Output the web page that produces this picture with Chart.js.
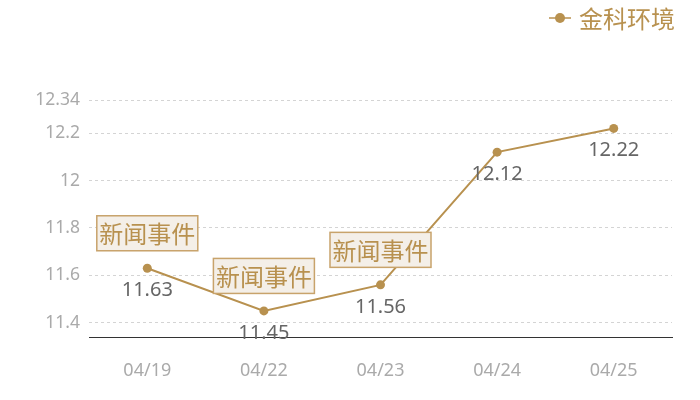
<!DOCTYPE html>
<html>
<head>
<meta charset="utf-8">
<script src="https://cdn.jsdelivr.net/npm/chart.js@4"></script>
<style>
  html, body { margin: 0; padding: 0; background: #fff; }
  #wrap { width: 700px; height: 400px; }
</style>
</head>
<body>
<div id="wrap"><canvas id="grafico" width="700" height="400"></canvas></div>
<script>
// Datos del gráfico
const fechas = ['04/19', '04/22', '04/23', '04/24', '04/25'];
const precios = [11.63, 11.45, 11.56, 12.12, 12.22];
const eventos = ['新闻事件', '新闻事件', '新闻事件', '', ''];
const ticksY = [11.4, 11.6, 11.8, 12, 12.2, 12.34];
const nombreSerie = '金科环境';

const dorado = '#b8914f';
const fuenteNum = '"Noto Sans", "Noto Sans CJK SC", sans-serif';
const fuenteCJK = '"Noto Sans CJK SC", "Noto Sans", sans-serif';

// Plugin para etiquetas de valor, cajas de eventos y leyenda
const etiquetasPlugin = {
  id: 'etiquetas',
  afterDatasetsDraw(chart) {
    const ctx = chart.ctx;
    const meta = chart.getDatasetMeta(0);
    ctx.save();
    ctx.textAlign = 'center';
    ctx.textBaseline = 'middle';
    meta.data.forEach((pt, i) => {
      // valor debajo del punto
      ctx.font = '20px ' + fuenteNum;
      ctx.fillStyle = '#666';
      ctx.fillText(String(precios[i]), pt.x, pt.y + 22);

      // caja de evento encima
      if (eventos[i]) {
        const w = 101, h = 35;
        const cy = pt.y - 35;
        ctx.fillStyle = '#f4efe8';
        ctx.fillRect(pt.x - w / 2, cy - h / 2, w, h);
        ctx.strokeStyle = '#c8a36b';
        ctx.lineWidth = 1.5;
        ctx.strokeRect(pt.x - w / 2, cy - h / 2, w, h);
        ctx.font = '24px ' + fuenteCJK;
        ctx.fillStyle = dorado;
        ctx.fillText(eventos[i], pt.x, cy + 1);
      }
    });

    // leyenda arriba a la derecha
    const ly = 18;
    ctx.strokeStyle = dorado;
    ctx.lineWidth = 1.5;
    ctx.beginPath();
    ctx.moveTo(549, ly);
    ctx.lineTo(571, ly);
    ctx.stroke();
    ctx.beginPath();
    ctx.arc(560, ly, 5, 0, Math.PI * 2);
    ctx.fillStyle = dorado;
    ctx.fill();
    ctx.font = '24px ' + fuenteCJK;
    ctx.textAlign = 'left';
    ctx.fillText(nombreSerie, 579, ly + 1);
    ctx.restore();
  }
};

const canvas = document.getElementById('grafico');
new Chart(canvas, {
  type: 'line',
  data: {
    labels: fechas,
    datasets: [{
      label: nombreSerie,
      data: precios,
      borderColor: dorado,
      backgroundColor: dorado,
      borderWidth: 2,
      pointRadius: 4.5,
      pointBackgroundColor: dorado,
      pointBorderWidth: 0,
      tension: 0
    }]
  },
  options: {
    responsive: false,
    animation: false,
    devicePixelRatio: 1,
    layout: { padding: { top: 100, right: 28, left: 0, bottom: 0 } },
    plugins: {
      legend: { display: false },
      tooltip: { enabled: false }
    },
    scales: {
      x: {
        offset: true,
        grid: { display: false, drawTicks: false },
        border: { display: true, color: '#333', width: 1 },
        ticks: {
          color: '#aaa',
          font: { size: 18, family: fuenteNum },
          padding: 23
        },
        afterFit(scale) { scale.height = 63; }
      },
      y: {
        min: 11.34,
        max: 12.34,
        border: { display: false, dash: [3, 3] },
        grid: {
          color: '#d4d4d4',
          lineWidth: 1,
          drawTicks: false
        },
        ticks: {
          color: '#aaa',
          font: { size: 17.5, family: fuenteNum },
          padding: 9,
          callback: (v) => String(v)
        },
        afterBuildTicks(scale) {
          scale.ticks = ticksY.map((v) => ({ value: v }));
        },
        afterFit(scale) { scale.width = 89; }
      }
    }
  },
  plugins: [etiquetasPlugin]
});
</script>
</body>
</html>
